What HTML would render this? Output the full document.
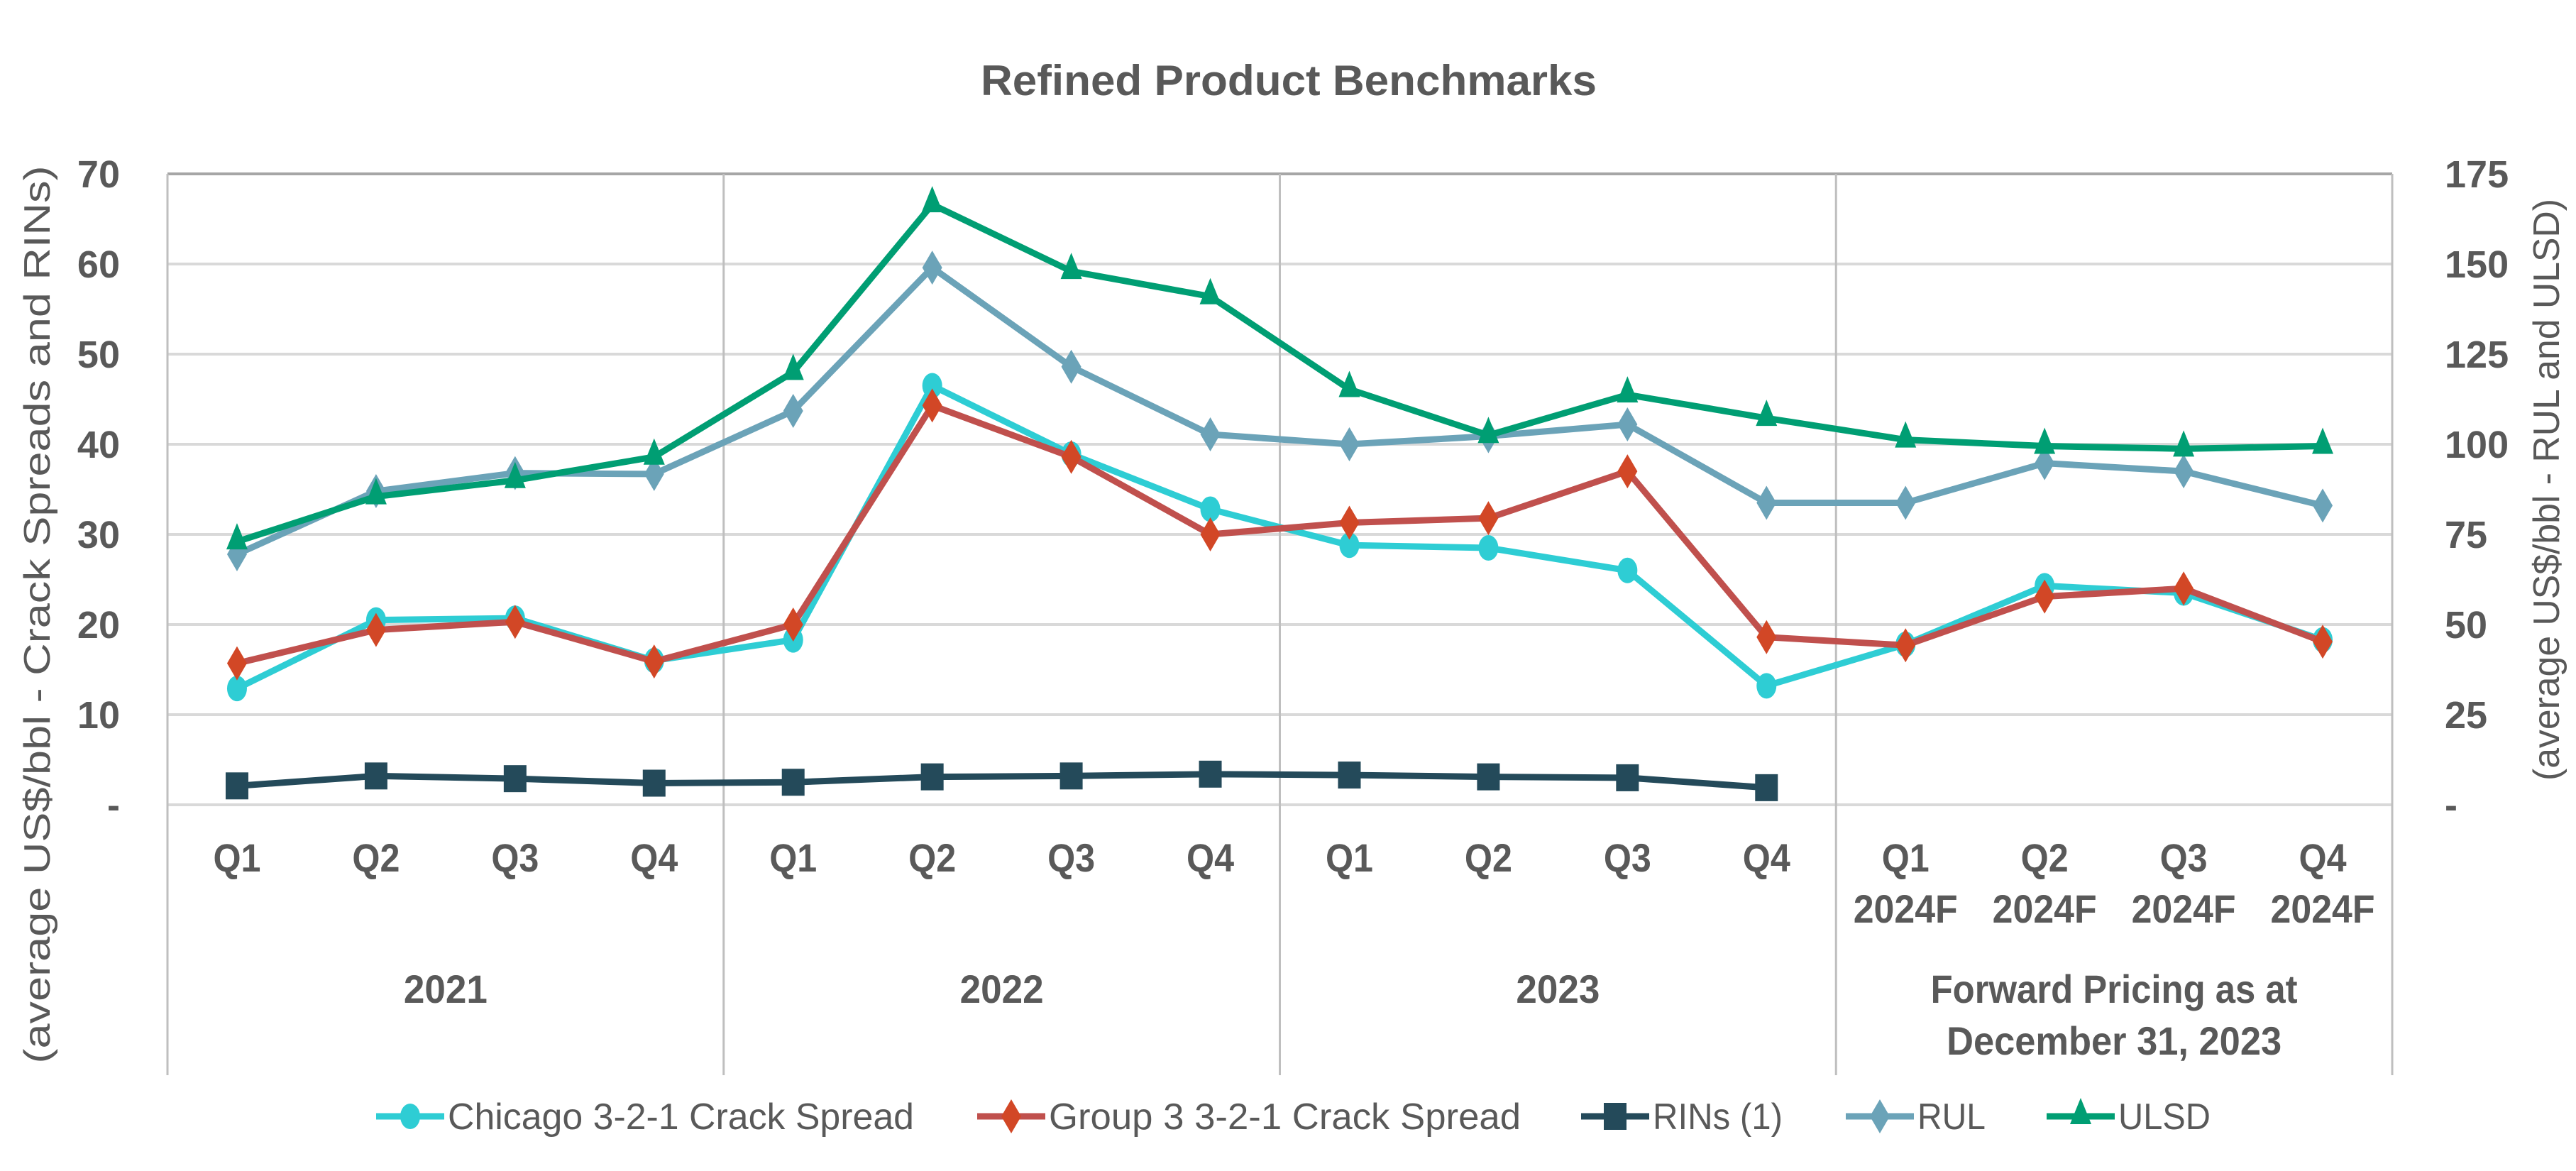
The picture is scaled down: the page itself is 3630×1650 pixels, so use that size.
<!DOCTYPE html>
<html><head><meta charset="utf-8"><style>
html,body{margin:0;padding:0;background:#fff;}
svg{display:block;}
text{font-family:"Liberation Sans",sans-serif;fill:#595959;}
</style></head><body>
<svg id="chart" width="3630" height="1650" viewBox="0 0 3630 1650" xmlns="http://www.w3.org/2000/svg">
<text x="1816" y="134" text-anchor="middle" font-size="60" font-weight="bold" textLength="868" lengthAdjust="spacingAndGlyphs">Refined Product Benchmarks</text>
<g id="grid"></g>
<g id="axes"></g>
<g id="series"></g>
<text transform="translate(70,866) rotate(-90)" text-anchor="middle" font-size="52" textLength="1265" lengthAdjust="spacingAndGlyphs">(average US$/bbl - Crack Spreads and RINs)</text>
<text transform="translate(3606,690) rotate(-90)" text-anchor="middle" font-size="52" textLength="820" lengthAdjust="spacingAndGlyphs">(average US$/bbl - RUL and ULSD)</text>
<g id="legend"></g>
</svg>
<script>
const quarters = ["Q1","Q2","Q3","Q4","Q1","Q2","Q3","Q4","Q1","Q2","Q3","Q4","Q1","Q2","Q3","Q4"];
const subLabels = ["","","","","","","","","","","","","2024F","2024F","2024F","2024F"];
const groups = [["2021"],["2022"],["2023"],["Forward Pricing as at","December 31, 2023"]];
const leftTicks = [0,10,20,30,40,50,60,70];
const leftTickLabels = ["-","10","20","30","40","50","60","70"];
const rightTicks = [0,25,50,75,100,125,150,175];
const rightTickLabels = ["-","25","50","75","100","125","150","175"];
const chicago = [12.9,20.5,20.7,16.0,18.3,46.5,38.9,32.8,28.8,28.5,26.0,13.2,17.8,24.3,23.5,18.3];
const group3 = [15.7,19.4,20.3,15.9,20.0,44.3,38.6,30.0,31.3,31.8,37.0,18.6,17.7,23.1,24.0,18.1];
const rins = [2.1,3.2,2.9,2.4,2.5,3.1,3.2,3.4,3.3,3.1,3.0,1.9];
const rul = [69.5,87,92,91.75,109.25,149,121.5,102.75,100,102.25,105.5,83.75,83.75,94.75,92.5,83];
const ulsd = [73,85.5,90,96.5,120,166.5,148,141,115.25,102.5,113.75,107.25,101.25,99.5,98.75,99.5];

const NS="http://www.w3.org/2000/svg";
const L=236,R=3371,T=245,B=1134;
const bw=(R-L)/quarters.length;
const x=i=>L+bw*(i+0.5);
const yL=v=>B-(v/70)*(B-T);
const yR=v=>B-(v/175)*(B-T);
function mk(tag,attrs,parent,txt){const e=document.createElementNS(NS,tag);for(const k in attrs)e.setAttribute(k,attrs[k]);if(txt!==undefined)e.textContent=txt;parent.appendChild(e);return e;}
const grid=document.getElementById('grid'),axes=document.getElementById('axes'),ser=document.getElementById('series'),leg=document.getElementById('legend');

leftTicks.forEach((t,i)=>{
  const g=mk('line',{x1:L,x2:R,y1:yL(t),y2:yL(t),stroke:i===7?'#a6a6a6':'#d9d9d9','stroke-width':4},grid);
  
  
  const tx=mk('text',{x:169,y:yL(t)+19,'text-anchor':'end','font-size':54,'font-weight':'bold'},axes,leftTickLabels[i]);
  
  
});
rightTicks.forEach((t,i)=>{
  const tx=mk('text',{x:3445,y:yR(t)+19,'font-size':54,'font-weight':'bold'},axes,rightTickLabels[i]);
  
  
});
[L,R].forEach(xx=>{const l=mk('line',{x1:xx,x2:xx,y1:T,y2:1515,stroke:'#bfbfbf','stroke-width':3},axes);
  
  });
[4,8,12].forEach(k=>{const xx=L+bw*k;const l=mk('line',{x1:xx,x2:xx,y1:T,y2:1515,stroke:'#bfbfbf','stroke-width':3},axes);
  
  });
quarters.forEach((q,i)=>{
  const t=mk('text',{x:x(i),y:1228,'text-anchor':'middle','font-size':56,'font-weight':'bold',textLength:67,lengthAdjust:'spacingAndGlyphs'},axes,q);
  
  
  if(subLabels[i]){const s=mk('text',{x:x(i),y:1300,'text-anchor':'middle','font-size':56,'font-weight':'bold',textLength:147,lengthAdjust:'spacingAndGlyphs'},axes,subLabels[i]);
    
    }
});
groups.forEach((g,gi)=>{
  const cx=L+bw*(gi*4+2);
  g.forEach((line,li)=>{
    const a={x:cx,y:(g.length===1?1413:1413+li*73),'text-anchor':'middle','font-size':56,'font-weight':'bold'};
    if(g.length>1){a.textLength=li===0?517:472;a.lengthAdjust='spacingAndGlyphs';}
    else{a.textLength=118;a.lengthAdjust='spacingAndGlyphs';}
    const t=mk('text',a,axes,line);
    
    
  });
});

function marker(type,cx,cy,color,parent){
  let e;
  if(type==='circle')e=mk('ellipse',{cx:cx,cy:cy,rx:14,ry:18,fill:color},parent);
  else if(type==='diamond')e=mk('polygon',{points:`${cx},${cy-24} ${cx+14},${cy} ${cx},${cy+24} ${cx-14},${cy}`,fill:color},parent);
  else if(type==='square')e=mk('rect',{x:cx-16,y:cy-19,width:32,height:38,fill:color},parent);
  else e=mk('polygon',{points:`${cx},${cy-26} ${cx+15},${cy+11} ${cx-15},${cy+11}`,fill:color},parent);
  return e;
}
const seriesDefs=[
  {name:'rul',vals:rul,y:yR,line:'#6ba3b8',mc:'#6ba3b8',m:'diamond'},
  {name:'ulsd',vals:ulsd,y:yR,line:'#009e73',mc:'#009e73',m:'triangle'},
  {name:'chicago',vals:chicago,y:yL,line:'#2ecdd4',mc:'#2ecdd4',m:'circle'},
  {name:'group3',vals:group3,y:yL,line:'#c0504d',mc:'#d24726',m:'diamond'},
  {name:'rins',vals:rins,y:yL,line:'#244a5a',mc:'#244a5a',m:'square'}
];
seriesDefs.forEach(s=>{
  const g=mk('g',{},ser);
  
  
  const p=mk('polyline',{points:s.vals.map((v,i)=>x(i)+','+s.y(v)).join(' '),fill:'none',stroke:s.line,'stroke-width':9,'stroke-linejoin':'round'},g);
  
  
  s.vals.forEach((v,i)=>{const m=marker(s.m,x(i),s.y(v),s.mc,g);
    
    });
});
const legItems=[
  {label:'Chicago 3-2-1 Crack Spread',line:'#2ecdd4',mc:'#2ecdd4',m:'circle',x0:530,tl:657},
  {label:'Group 3 3-2-1 Crack Spread',line:'#c0504d',mc:'#d24726',m:'diamond',x0:1377,tl:665},
  {label:'RINs (1)',line:'#244a5a',mc:'#244a5a',m:'square',x0:2228,tl:183},
  {label:'RUL',line:'#6ba3b8',mc:'#6ba3b8',m:'diamond',x0:2601,tl:96},
  {label:'ULSD',line:'#009e73',mc:'#009e73',m:'triangle',x0:2884,tl:130}
];
legItems.forEach(it=>{
  const g=mk('g',{},leg);
  
  
  mk('line',{x1:it.x0,x2:it.x0+96,y1:1573,y2:1573,stroke:it.line,'stroke-width':9},g);
  marker(it.m,it.x0+48,1573,it.mc,g);
  mk('text',{x:it.x0+101,y:1591,'font-size':52,textLength:it.tl,lengthAdjust:'spacingAndGlyphs'},g,it.label);
});
</script>
</body></html>
